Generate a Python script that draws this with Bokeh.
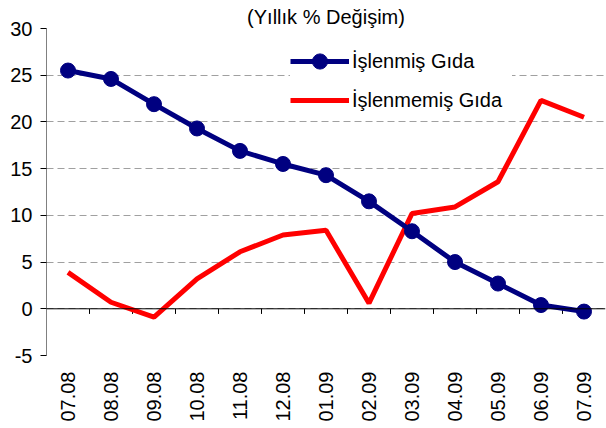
from bokeh.plotting import figure
from bokeh.models import (Span, Legend, LegendItem, FixedTicker)
from bokeh.embed import file_html
from bokeh.resources import INLINE
from math import pi

months = ["07.08", "08.08", "09.08", "10.08", "11.08", "12.08", "01.09",
          "02.09", "03.09", "04.09", "05.09", "06.09", "07.09"]
islenmis = [25.5, 24.6, 21.9, 19.3, 16.9, 15.5, 14.3, 11.5, 8.3, 5.0, 2.7, 0.4, -0.3]
islenmemis = [3.9, 0.7, -0.9, 3.2, 6.1, 7.9, 8.4, 0.6, 10.2, 10.9, 13.6, 22.3, 20.5]
y_ticks = [-5, 0, 5, 10, 15, 20, 25, 30]
title_text = "(Yıllık % Değişim)"
series_names = ["İşlenmiş Gıda", "İşlenmemiş Gıda"]

FONT = "Liberation Sans"
xs = list(range(len(months)))

p = figure(width=606, height=428, output_backend="svg", toolbar_location=None,
           x_range=(-0.5, len(months) - 0.5), y_range=(-5, 30),
           min_border_left=46, min_border_right=1, min_border_top=28,
           min_border_bottom=73)
p.outline_line_color = None
p.background_fill_color = "white"
p.border_fill_color = "white"

# title
p.title.text = title_text
p.title.align = "center"
p.title.offset = -4
p.title.text_font = FONT
p.title.text_font_size = "20px"
p.title.text_font_style = "normal"
p.title.text_color = "black"
p.title.standoff = 2

# grid
p.xgrid.grid_line_color = None
p.ygrid.ticker = FixedTicker(ticks=y_ticks)
p.ygrid.grid_line_color = "#a0a0a0"
p.ygrid.grid_line_dash = "7 4"
p.ygrid.grid_line_width = 1

# y axis
p.yaxis.ticker = FixedTicker(ticks=y_ticks)
p.yaxis.major_label_overrides = {t: str(t) for t in y_ticks}
p.yaxis.axis_line_color = "#808080"
p.yaxis.major_tick_line_color = "black"
p.yaxis.major_tick_out = 6
p.yaxis.major_tick_in = 0
p.yaxis.minor_tick_line_color = None
p.yaxis.major_label_text_font = FONT
p.yaxis.major_label_text_font_size = "20px"
p.yaxis.major_label_text_color = "black"
p.yaxis.major_label_standoff = 8

# x axis (labels only)
p.xaxis.ticker = FixedTicker(ticks=xs)
p.xaxis.major_label_overrides = {i: m for i, m in enumerate(months)}
p.xaxis.axis_line_color = None
p.xaxis.major_tick_line_color = None
p.xaxis.minor_tick_line_color = None
p.xaxis.major_label_orientation = pi / 2
p.xaxis.major_label_text_font = FONT
p.xaxis.major_label_text_font_size = "20px"
p.xaxis.major_label_text_color = "black"
p.xaxis.major_label_standoff = 10

# zero line with category-boundary ticks
p.add_layout(Span(location=0, dimension="width", line_color="black", line_width=1))
bx = [i + 0.5 for i in xs[:-1]]
p.segment(x0=bx, y0=[0] * len(bx), x1=bx, y1=[-0.55] * len(bx),
          line_color="black", line_width=1)

# series
r_red = p.line(xs, islenmemis, line_color="#ff0000", line_width=5)
r_blue = p.line(xs, islenmis, line_color="#000080", line_width=5)
r_dots = p.scatter(xs, islenmis, size=15, fill_color="#000080", line_color="#000080")

legend = Legend(items=[LegendItem(label=series_names[0], renderers=[r_blue, r_dots]),
                       LegendItem(label=series_names[1], renderers=[r_red])],
                location=(244, 236), padding=2, spacing=1,
                glyph_width=59, glyph_height=38, label_standoff=3,
                label_text_font=FONT, label_text_font_size="20px",
                label_text_color="black", label_height=38, label_width=160,
                border_line_color=None, background_fill_color="white",
                background_fill_alpha=1.0, margin=0)
p.add_layout(legend)

open("out.html", "w").write(file_html(p, INLINE))
